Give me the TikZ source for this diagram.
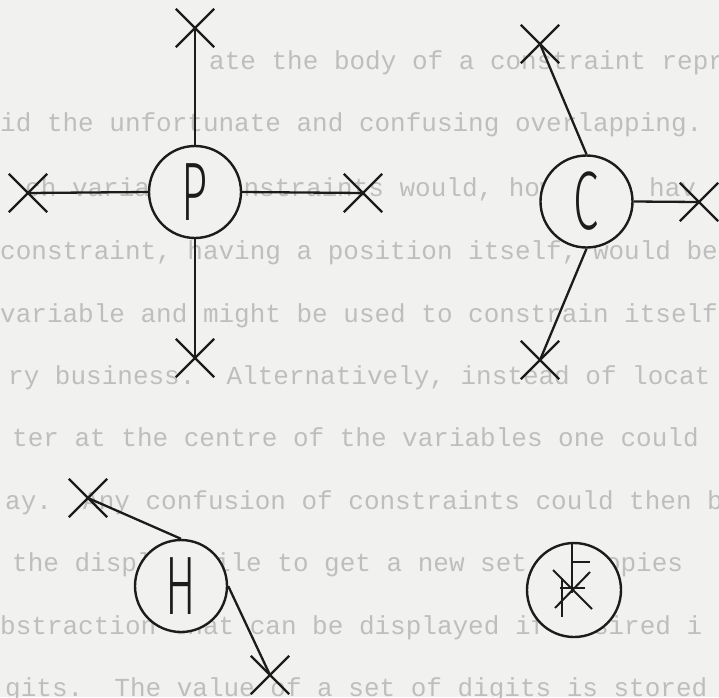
\documentclass[tikz,border=0pt]{standalone}
\usepackage{fontspec}
\usepackage{graphicx}
\usetikzlibrary{shapes.misc}
\newfontfamily\typer{Liberation Mono}
\newfontfamily\leroy{Fira Sans Light}
\definecolor{paper}{RGB}{241,241,239}
\definecolor{ink}{RGB}{28,28,28}
\definecolor{typed}{RGB}{190,190,190}
\newcommand\bigletter[1]{\scalebox{0.55}[1]{\leroy\fontsize{83}{83}\selectfont #1}}
\begin{document}
\begin{tikzpicture}[x=1pt,y=-1pt,
  ring/.style={circle,draw=ink,line width=2.4pt,minimum size=92pt,inner sep=0pt,fill=paper,text=ink},
  xmark/.style={cross out,draw=ink,line width=2.3pt,minimum size=36pt,inner sep=0pt},
  wire/.style={draw=ink,line width=2.3pt},
  typedline/.style={anchor=base west,inner sep=0pt,text=typed,font={\typer\fontsize{26}{26}\selectfont\frenchspacing}}]
\useasboundingbox (0,0) rectangle (719,697);
\fill[paper] (0,0) rectangle (719,697);
\begin{scope}
\clip (0,0) rectangle (719,697);
\node[typedline] (t1) at (209,69) {ate the body of a constraint repr};
\node[typedline] (t2) at (0,131) {id the unfortunate and confusing overlapping.};
\node[typedline] (t3) at (25,196) {ch variable constraints would, however, hav};
\node[typedline] (t4) at (0,259) {constraint, having a position itself, would be};
\node[typedline] (t5) at (0,322) {variable and might be used to constrain itself};
\node[typedline] (t6) at (8,384) {ry business.~~Alternatively, instead of locat};
\node[typedline] (t7) at (12,446) {ter at the centre of the variables one could};
\node[typedline] (t8) at (5,509) {ay.~~Any confusion of constraints could then b};
\node[typedline] (t9) at (12,571) {the display file to get a new set of copies};
\node[typedline] (t10) at (0,634) {bstraction that can be displayed if desired i};
\node[typedline] (t11) at (5,696) {gits.~~The value of a set of digits is stored};
\end{scope}
% P group
\node[ring] (P) at (195,192) {\bigletter{P}};
\node[xmark] (Pt) at (195,28) {};
\node[xmark] (Pl) at (28,193) {};
\node[xmark] (Pr) at (363,193) {};
\node[xmark] (Pb) at (195,358) {};
\draw[wire] (P.north) -- (Pt.center);
\draw[wire] (P.west) -- (Pl.center);
\draw[wire] (P.east) -- (Pr.center);
\draw[wire] (P.south) -- (Pb.center);
% C group
\node[ring] (C) at (586.5,201.5) {\bigletter{C}};
\node[xmark] (Ct) at (540,44) {};
\node[xmark] (Cr) at (699,202) {};
\node[xmark] (Cb) at (540,360) {};
\draw[wire] (C.north) -- (Ct.center);
\draw[wire] (C.east) -- (Cr.center);
\draw[wire] (C.south) -- (Cb.center);
% H group
\node[ring] (H) at (181,586) {\bigletter{H}};
\node[xmark] (Ht) at (88,498) {};
\node[xmark] (Hb) at (270,675) {};
\draw[wire] (H.north) -- (Ht.center);
\draw[wire] (H.east) -- (Hb.center);
% symbol
\node[ring,minimum size=94pt] (S) at (574,590) {};
\draw[wire,line width=2pt] (572,543) -- (572,593);
\draw[wire,line width=2pt] (572,562) -- (590,562);
\draw[wire,line width=2pt] (560,588) -- (585,588);
\draw[wire,line width=2pt] (562,578) -- (562,617);
\draw[wire,line width=2pt] (553,570) -- (592,609);
\draw[wire,line width=2pt] (555,608) -- (590,572);
\end{tikzpicture}
\end{document}
